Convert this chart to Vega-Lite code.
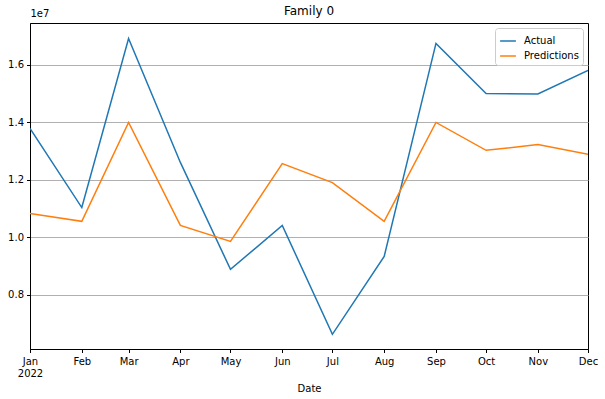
{
  "$schema": "https://vega.github.io/schema/vega-lite/v6.json",
  "width": 558,
  "height": 326,
  "autosize": {"type": "none"},
  "padding": {"left": 30, "top": 23, "right": 17, "bottom": 50},
  "background": "white",
  "title": {"text": "Family 0", "fontSize": 12, "font": "DejaVu Sans", "fontWeight": "normal", "color": "black", "offset": 6, "dy": 16},
  "config": {
    "font": "DejaVu Sans",
    "view": {"stroke": "black", "strokeWidth": 1},
    "axis": {"labelFont": "DejaVu Sans", "titleFont": "DejaVu Sans", "labelFontSize": 10, "titleFontSize": 10, "labelColor": "black", "titleColor": "black", "titleFontWeight": "normal", "domainColor": "black", "tickColor": "black", "tickSize": 3.5}
  },
  "data": {"values": [
    {"Date": "2022-01-01", "series": "Actual", "value": 13790000},
    {"Date": "2022-02-01", "series": "Actual", "value": 11040000},
    {"Date": "2022-03-01", "series": "Actual", "value": 16920000},
    {"Date": "2022-04-01", "series": "Actual", "value": 12610000},
    {"Date": "2022-05-01", "series": "Actual", "value": 8890000},
    {"Date": "2022-06-01", "series": "Actual", "value": 10420000},
    {"Date": "2022-07-01", "series": "Actual", "value": 6630000},
    {"Date": "2022-08-01", "series": "Actual", "value": 9340000},
    {"Date": "2022-09-01", "series": "Actual", "value": 16750000},
    {"Date": "2022-10-01", "series": "Actual", "value": 15010000},
    {"Date": "2022-11-01", "series": "Actual", "value": 14990000},
    {"Date": "2022-12-01", "series": "Actual", "value": 15810000},
    {"Date": "2022-01-01", "series": "Predictions", "value": 10830000},
    {"Date": "2022-02-01", "series": "Predictions", "value": 10560000},
    {"Date": "2022-03-01", "series": "Predictions", "value": 14000000},
    {"Date": "2022-04-01", "series": "Predictions", "value": 10420000},
    {"Date": "2022-05-01", "series": "Predictions", "value": 9860000},
    {"Date": "2022-06-01", "series": "Predictions", "value": 12570000},
    {"Date": "2022-07-01", "series": "Predictions", "value": 11910000},
    {"Date": "2022-08-01", "series": "Predictions", "value": 10560000},
    {"Date": "2022-09-01", "series": "Predictions", "value": 14000000},
    {"Date": "2022-10-01", "series": "Predictions", "value": 13030000},
    {"Date": "2022-11-01", "series": "Predictions", "value": 13230000},
    {"Date": "2022-12-01", "series": "Predictions", "value": 12890000}
  ]},
  "mark": {"type": "line", "strokeWidth": 1.5, "clip": true},
  "encoding": {
    "x": {
      "field": "Date", "type": "temporal", "timeUnit": "utcyearmonth",
      "scale": {"domain": [{"year": 2022, "month": 1, "date": 1, "utc": true}, {"year": 2022, "month": 12, "date": 1, "utc": true}], "nice": false},
      "axis": {
        "title": "Date", "grid": false, "tickCount": {"interval": "month", "step": 1},
        "labelExpr": "utcmonth(datum.value) == 0 ? ['Jan', '2022'] : utcFormat(datum.value, '%b')",
        "labelFlush": false, "labelOverlap": false, "labelPadding": 4, "titlePadding": 5
      }
    },
    "y": {
      "field": "value", "type": "quantitative",
      "scale": {"domain": [6120000, 17460000], "nice": false, "zero": false},
      "axis": {
        "values": [8000000, 10000000, 12000000, 14000000, 16000000],
        "labelExpr": "format(datum.value / 1e7, '.1f')",
        "grid": true, "gridColor": "#b0b0b0", "gridWidth": 1,
        "title": "1e7", "titleAngle": 0, "titleX": 0, "titleY": -5, "titleAlign": "left", "titleBaseline": "bottom", "labelPadding": 3
      }
    },
    "color": {
      "field": "series", "type": "nominal",
      "scale": {"domain": ["Actual", "Predictions"], "range": ["#1f77b4", "#ff7f0e"]},
      "legend": {
        "title": null, "orient": "top-right", "offset": 5,
        "symbolType": "stroke", "symbolSize": 250, "symbolStrokeWidth": 1.5,
        "labelFontSize": 10, "labelFont": "DejaVu Sans", "labelColor": "black", "labelOffset": 7,
        "strokeColor": "#cccccc", "fillColor": "white", "cornerRadius": 3, "padding": 4, "rowPadding": 1
      }
    }
  }
}
